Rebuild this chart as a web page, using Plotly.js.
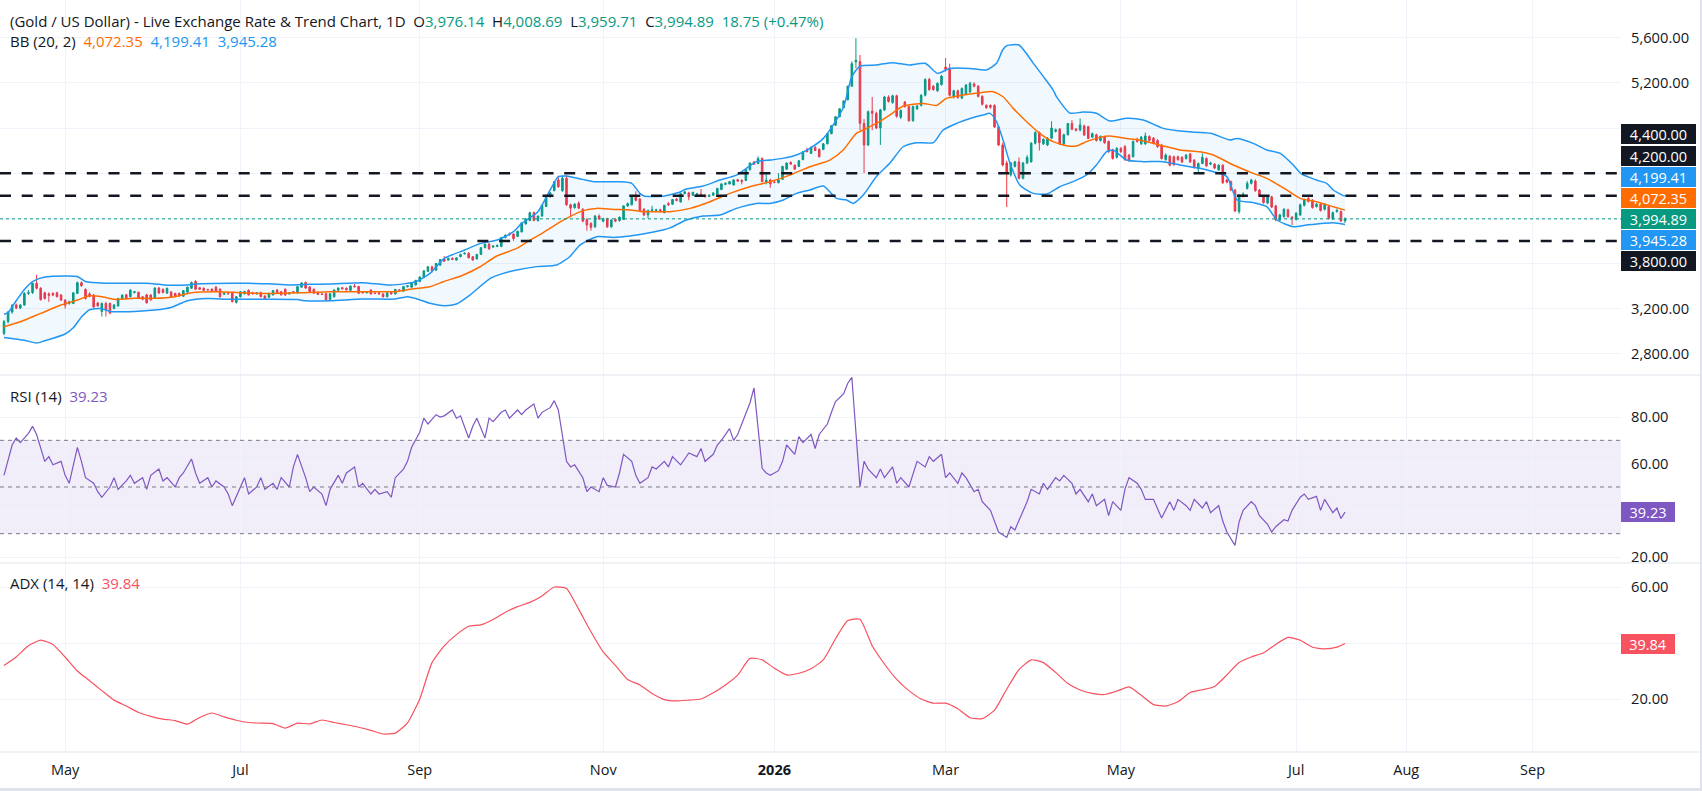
<!DOCTYPE html>
<html><head><meta charset="utf-8">
<script src="https://cdn.plot.ly/plotly-3.0.1.min.js"></script>
<style>
html,body{margin:0;padding:0;background:#e0e3eb;}
#chart{position:absolute;left:0;top:0;width:1700px;height:788px;background:#fff;}
</style></head><body><div id="chart"></div>
<script>
// ---------------- DATA ----------------
const monthTickBars = [15, 58, 102, 147, 189, 231, 274, 317, 344, 375];
const monthTickText = ['May','Jul','Sep','Nov','<b>2026</b>','Mar','May','Jul','Aug','Sep'];

const open = [
2980,3085,3170,3232,3205,3232,3335,3342,3424,3380, 3340,3330,3335,3340,3320,3275,3245,3245,3335,3430,
3370,3330,3320,3250,3175,3245,3245,3200,3225,3290, 3322,3305,3342,3345,3305,3322,3320,3290,3382,3370,
3338,3348,3335,3335,3310,3345,3380,3440,3385,3380, 3370,3372,3390,3372,3328,3336,3338,3255,3305,3332,
3362,3340,3330,3342,3312,3300,3322,3365,3350,3372, 3330,3350,3340,3390,3432,3392,3372,3342,3330,3332,
3280,3305,3362,3385,3380,3362,3400,3396,3346,3340, 3365,3336,3340,3330,3305,3345,3330,3366,3355,3394,
3390,3410,3440,3475,3530,3570,3540,3585,3640,3630, 3645,3630,3660,3685,3690,3660,3640,3680,3740,3770,
3745,3750,3750,3830,3862,3860,3840,3880,3950,3980, 4050,3980,4020,4105,4190,4245,4340,4245,4355,4120,
4095,4135,4080,3990,3955,3925,4020,3975,3995,3925, 3990,3980,3990,4110,4120,4190,4170,4080,4030,4070,
4070,4075,4050,4130,4125,4168,4145,4220,4225,4205, 4208,4215,4206,4195,4205,4215,4255,4300,4305,4295,
4342,4336,4335,4430,4500,4485,4530,4320,4340,4320, 4315,4345,4435,4495,4470,4460,4520,4605,4575,4628,
4610,4610,4660,4750,4825,4900,4980,5050,5170,5385, 5390,4840,4650,4950,4930,4800,4960,5075,5025,5085,
4895,5030,4990,4865,4970,5000,5090,5230,5170,5130, 5185,5340,5330,5080,5130,5065,5100,5120,5190,5170,
5080,5000,5000,5000,4810,4650,4490,4385,4460,4500, 4355,4490,4500,4665,4760,4660,4650,4710,4770,4790,
4660,4740,4840,4790,4782,4818,4812,4720,4740,4690, 4720,4680,4605,4540,4620,4635,4560,4545,4700,4660,
4660,4725,4710,4690,4650,4520,4550,4545,4545,4540, 4530,4570,4515,4440,4485,4530,4480,4480,4430,4470,
4340,4325,4250,4060,4195,4265,4310,4330,4250,4195, 4135,4190,4110,3985,4015,4075,4010,3990,4030,4115,
4175,4160,4105,4125,4080,4105,3995,4060,4060,3976.14];
const high = [
3100,3180,3240,3245,3240,3345,3365,3430,3500,3390, 3350,3345,3345,3350,3330,3285,3270,3345,3440,3440,
3380,3345,3330,3260,3255,3260,3255,3240,3295,3325, 3330,3370,3355,3350,3310,3330,3328,3390,3392,3380,
3385,3355,3340,3342,3365,3395,3440,3452,3392,3388, 3375,3380,3400,3380,3342,3345,3345,3310,3355,3358,
3370,3348,3345,3350,3318,3340,3365,3372,3356,3378, 3345,3355,3400,3435,3440,3398,3378,3348,3336,3338,
3338,3372,3388,3392,3388,3405,3418,3402,3352,3356, 3372,3345,3346,3336,3345,3350,3375,3372,3400,3408,
3435,3455,3485,3540,3578,3580,3605,3640,3665,3652, 3655,3656,3686,3698,3700,3666,3685,3746,3778,3785,
3762,3768,3835,3858,3875,3866,3890,3965,4000,4058, 4060,4025,4120,4205,4232,4330,4378,4380,4380,4130,
4135,4150,4090,4000,3965,4030,4035,4005,4005,3990, 4000,4015,4115,4140,4195,4240,4180,4090,4075,4110,
4085,4085,4120,4145,4172,4180,4225,4245,4235,4235, 4222,4260,4212,4210,4230,4270,4310,4318,4330,4345,
4350,4345,4435,4495,4508,4550,4540,4390,4350,4330, 4400,4465,4495,4505,4478,4515,4595,4625,4635,4640,
4620,4665,4755,4825,4905,4975,5045,5175,5390,5595, 5447,4880,4955,5075,4945,4970,5085,5090,5095,5095,
4965,5040,5000,5000,5005,5100,5240,5245,5180,5205, 5270,5420,5370,5140,5140,5160,5190,5210,5205,5180,
5090,5010,5010,5010,4820,4670,4510,4500,4510,4540, 4500,4560,4675,4770,4770,4710,4720,4860,4795,4800,
4750,4845,4870,4800,4885,4830,4820,4760,4750,4735, 4730,4690,4615,4630,4630,4650,4570,4690,4715,4730,
4760,4735,4720,4700,4660,4575,4560,4555,4555,4550, 4570,4580,4525,4495,4575,4540,4500,4490,4480,4480,
4350,4335,4260,4215,4230,4330,4350,4345,4260,4205, 4200,4200,4120,4040,4090,4085,4020,4055,4130,4175,
4195,4170,4135,4135,4135,4115,4060,4085,4070,4008.69];
const low = [
2965,3070,3155,3195,3195,3225,3320,3330,3370,3270, 3280,3260,3310,3300,3270,3200,3235,3240,3330,3395,
3280,3300,3205,3215,3130,3130,3150,3195,3215,3280, 3285,3300,3335,3285,3275,3245,3270,3285,3330,3335,
3330,3295,3305,3305,3305,3340,3375,3365,3365,3355, 3360,3345,3345,3298,3320,3325,3255,3245,3298,3325,
3315,3325,3325,3300,3282,3295,3315,3330,3315,3315, 3325,3340,3335,3385,3375,3345,3330,3320,3320,3268,
3272,3298,3355,3368,3360,3355,3388,3330,3335,3334, 3325,3328,3325,3298,3300,3325,3325,3356,3350,3388,
3385,3405,3435,3470,3525,3520,3535,3580,3615,3625, 3630,3625,3655,3680,3645,3625,3635,3675,3735,3720,
3738,3745,3745,3822,3848,3800,3835,3875,3945,3975, 3975,3970,4015,4100,4185,4240,4270,4235,4110,4010,
4085,4080,3965,3890,3890,3915,3985,3965,3915,3915, 3965,3970,3985,4100,4115,4150,4065,4020,4000,4060,
4060,4050,4045,4110,4120,4150,4140,4212,4160,4198, 4200,4195,4185,4188,4200,4210,4250,4294,4300,4290,
4322,4300,4330,4425,4475,4480,4320,4300,4270,4310, 4310,4340,4430,4475,4430,4455,4515,4585,4570,4595,
4540,4605,4655,4745,4820,4895,4975,5045,5165,5330, 4780,4400,4640,4780,4790,4650,4950,5025,5015,4890,
4880,4980,4855,4855,4960,4990,5080,5130,5130,5120, 5175,5300,5080,5060,5060,5055,5090,5110,5160,5070,
5000,4970,4970,4800,4640,4460,4100,4370,4450,4345, 4345,4480,4495,4655,4600,4650,4640,4700,4760,4650,
4640,4735,4780,4770,4770,4730,4700,4710,4680,4680, 4660,4580,4520,4530,4580,4510,4500,4540,4670,4650,
4650,4680,4655,4625,4520,4510,4460,4465,4510,4490, 4520,4490,4440,4405,4480,4455,4470,4435,4420,4305,
4310,4240,4055,4040,4185,4255,4300,4235,4190,4130, 4125,4090,3975,3975,4005,4005,3940,3980,4020,4105,
4140,4085,4095,4060,4070,3990,3985,4050,3970,3959.71];
const close = [
3085,3170,3230,3205,3232,3335,3342,3424,3380,3280, 3290,3318,3320,3305,3275,3230,3260,3340,3430,3402,
3290,3310,3215,3225,3245,3190,3160,3232,3290,3320, 3292,3365,3350,3292,3282,3252,3278,3382,3338,3342,
3380,3302,3312,3312,3360,3390,3432,3372,3372,3362, 3366,3352,3352,3305,3336,3332,3262,3305,3350,3352,
3322,3332,3340,3306,3290,3335,3360,3336,3322,3320, 3340,3346,3395,3428,3382,3352,3336,3326,3326,3276,
3332,3365,3382,3376,3366,3400,3394,3336,3341,3348, 3330,3335,3330,3305,3340,3330,3370,3364,3395,3402,
3430,3450,3480,3535,3570,3535,3600,3635,3620,3645, 3636,3650,3680,3690,3650,3630,3680,3740,3770,3730,
3755,3760,3830,3850,3855,3820,3885,3960,3995,4050, 3980,4020,4115,4200,4225,4325,4280,4355,4120,4090,
4125,4090,3975,3940,3920,4020,3995,3995,3925,3985, 3975,4010,4110,4130,4190,4160,4070,4030,4070,4075,
4075,4060,4115,4120,4166,4158,4220,4235,4190,4230, 4216,4200,4190,4205,4225,4265,4305,4310,4325,4340,
4330,4325,4430,4490,4480,4530,4325,4340,4305,4318, 4340,4460,4490,4480,4435,4510,4590,4590,4630,4600,
4545,4660,4750,4820,4900,4970,5040,5170,5370,5400, 4842,4650,4945,4930,4800,4960,5075,5035,5085,4905,
4955,4990,4865,4990,4995,5090,5230,5140,5140,5195, 5260,5320,5090,5130,5070,5150,5180,5195,5170,5080,
5010,4980,4985,4810,4650,4472,4400,4490,4500,4355, 4490,4540,4665,4760,4670,4700,4710,4800,4785,4660,
4740,4840,4790,4780,4827,4738,4708,4750,4690,4725, 4670,4590,4530,4620,4590,4520,4510,4680,4680,4720,
4730,4690,4665,4635,4530,4560,4470,4475,4520,4500, 4560,4500,4450,4485,4540,4465,4490,4445,4470,4315,
4320,4250,4065,4205,4215,4310,4340,4245,4200,4140, 4190,4100,3985,4030,4080,4015,4000,4045,4120,4165,
4150,4095,4125,4070,4125,4000,4050,4070,3976.14,3994.89];

// Bollinger Bands (20, 2) at sample bars
const bbUpperBar = [0,1,3,5,7,10,15,18,20,25, 30,35,38,40,45,48,55,60,65,70,
 75,80,88,95,101,104.5,108,113,117,121, 125,127,131,134,136,138,142,145,151,154,
 156,157,162,166,167,171.5,175.6,179.7,184.6,188, 191,194.4,197.7,201,203.4,206,208,210,214,218,
 222,226,229,232,237,241,243.5,245,246,249, 252.5,255,257.4,258.2,261.5,264.7,268,271.3,275.4,279.5,
 284.4,290,296,300.8,302.4,306.5,309.8,313.1,316.3,318.3, 322,324.5,326.1,328.6,329];
const bbUpper = [3150,3165,3270,3370,3440,3480,3490,3485,3440,3425, 3425,3425,3415,3408,3410,3420,3424,3424,3420,3410,
 3415,3418,3430,3409,3438,3512,3645,3719,3778,3808, 3882,3955,4059,4251,4369,4375,4345,4324,4324,4310,
 4221,4198,4198,4236,4256,4286,4339,4383,4502,4516, 4531,4561,4620,4708,4826,4989,5255,5349,5358,5379,
 5358,5373,5284,5328,5328,5314,5373,5491,5530,5535, 5375,5255,5136,5078,4932,4941,4930,4862,4886,4871,
 4797,4768,4753,4694,4708,4664,4605,4575,4472,4393, 4339,4310,4251,4201,4199.41];
const bbLowerBar = [0,5,8,10,15,17,19,21,24,26, 32,37,41,45,50,55,65,72,74,80,
 88,96,99,101,104.5,108,111,114.3,119.3,122.5, 125.8,130.7,135.6,138.8,141.3,145.4,149.5,153.6,157.7,161.7,
 163.4,167.4,171.5,175.6,179.7,184.6,187.9,191.2,194.4,197.7, 201,204.2,206.7,208.3,210.8,214,217.3,220.6,223.9,228,
 230.4,233.7,237,240.2,241.9,243.5,245.1,246.8,249.2,252.5, 255.8,259,262.3,265.6,268,270.5,272.1,275.4,279.5,284.4,
 288.5,293.4,296.7,300,302.5,306.5,309.8,312.3,316.3,319.6, 326.1,329];
const bbLower = [2945,2920,2895,2915,2975,3030,3125,3190,3200,3175, 3175,3187,3210,3270,3290,3283,3283,3280,3270,3270,
 3285,3285,3306,3290,3247,3226,3241,3320,3468,3512, 3542,3572,3586,3660,3763,3837,3831,3843,3867,3896,
 3915,3985,4020,4029,4088,4132,4132,4162,4221,4251, 4286,4177,4162,4132,4206,4369,4487,4634,4670,4670,
 4782,4841,4885,4915,4930,4856,4693,4487,4295,4221, 4215,4280,4325,4384,4472,4590,4605,4516,4502,4502,
 4472,4443,4413,4369,4162,4139,4103,3985,3926,3941, 3961,3945.28];
const bbMidBar = [0,4,9,14,18,21,24,27,32,37, 42,46,53,58,64,73,80,88,96,99.6,
 104.5,107.8,112.7,116.8,120.9,125.8,129.1,132.3,135.6,138, 142.1,145.4,149.5,153.6,156.8,160.9,163.4,168.3,173.2,178.1,
 183,187.9,192.8,197.7,202.6,205.9,209.1,210.8,214,217.3, 220.6,225.5,228.8,231.2,235.3,239.4,242.7,245.1,247.6,250.9,
 254.1,257.4,260.7,263.1,265.6,268.8,271.3,275.4,279.5,284.4, 288.5,293.4,296.7,301.6,306.5,309.8,314.7,318,322,326.1,329];
const bbMid = [3040,3084,3158,3232,3276,3314,3306,3282,3291,3291, 3306,3341,3350,3341,3335,3341,3350,3350,3350,3371,
 3394,3438,3498,3571,3666,3734,3808,3873,3949,3999, 4068,4088,4079,4074,4059,4059,4059,4088,4147,4221,
 4280,4324,4383,4457,4516,4605,4753,4782,4841,4915, 4995,5018,5000,5063,5092,5113,5122,5077,4974,4856,
 4753,4679,4643,4641,4679,4717,4729,4708,4688,4641, 4605,4590,4561,4472,4398,4354,4251,4177,4147,4103,4072.35];

// RSI (14)
const rsiBar = [0,2,3,4,6,7,8,10,11,12,14,15,16,18,19,20,22,23,24,26,27,28,30,31,32,34,35,36,38,39,40,42,43,44,46,47,48,50,51,52,
54,55,56,58,59,60,62,63,64,66,67,68,70,71,72,74,75,76,78,79,80,82,83,84,86,87,88,90,91,92,94,95,96,98,99,100,102,103,104,106,
107,108,110,111,112,114,115,116,118,119,120,122,123,124,126,127,128,130,131,132,134,135,136,138,139,140,142,143,144,146,147,148,150,151,
152,154,155,156,158,159,160,162,163,164,166,167,168,170,171,172,174,175,176,178,179,180,182,183,184,186,187,188,190,191,192,194,195,196,
198,199,200,202,203,204,206,207,208,210,211,212,214,215,216,218,219,220,222,223,224,226,227,228,230,231,232,234,235,236,238,239,240,242,
243,244,246,247,248,250,251,252,254,255,256,258,259,260,262,263,264,266,267,268,270,271,272,274,275,276,278,279,280,282,283,284,286,287,
288,290,291,292,294,295,296,298,299,300,302,303,304,306,307,308,310,311,312,314,315,316,318,319,320,322,323,324,326,327,328,329];
const rsi = [55,68,71,69,73,76,72.5,61,63,59.5, 61,55,51.6,67,61,54,51.6,48,45.6,50,
 54,49,52.6,55,51.6,54,49,55,57.7,52.6, 54,50,54,56,62,56,51.6,54,50,52.6,
 50,47,42,50,54,47,50,54,49,51.6, 49,54,50,58.6,64,54,48,50,47,42,
 49,55,51.6,56,58.6,50,51.6,47,49,47, 48,45.6,54,57.7,61,67,73.5,79.5,77,81,
 80,80.5,83,79.5,80.5,71,76,79.5,71,79.5, 78,82,83,79.5,83,81,83,85.6,79.5,82,
 84,87,83,61,58.6,59.5,54,48,50,48, 54,50.7,50,56,64,61,55,51.6,54,58.6,
 57.7,61,58.6,63,59.5,62,64.6,63,66.5,61, 64,68,70,75,70,72.5,81,86,92.5,58,
 56,55,57,61,68,64,71.6,69,72.5,66.5, 72.5,77,82,86.6,90,94.5,97,50,61,57.7,
 54,57.7,54,58.6,51.6,54,50,56,61,58.6, 63,61,64,54,56,51.6,56,54,48,49,
 43.7,40,35.4,30.7,28.4,33,31.6,40,43.7,49, 47,51.6,49,54,52.6,55,51.6,47,49,43.7,
 47,42,44.7,37.7,43.7,40,49,54,51.6,49, 44.7,44.7,41,36.7,43.7,40,44.7,42,40,44.7,
 41,43.7,39,42,35.4,30.7,25,35,40,43.7, 42,37.7,34,30.7,33,36,35.4,40,45.6,47,
 44.7,46,40,44.7,39,41,36.5,39.23];

// ADX (14, 14)
const adxBar = [0,3,6,9,12,15,18,21,24,27, 30,33,36,39,42,45,48,51,54,57,
 60,63,66,69,72,75,78,81,84,87, 90,93,96,99,102,105,108,111,114,117,
 120,123,126,129,132,135,138,141,144,147, 150,153,156,159,162,165,168,171,174,177,
 180,183,186,189,192,195,198,201,204,207, 210,213,216,219,222,225,228,231,234,237,
 240,243,246,249,252,255,258,261,264,267, 270,273,276,279,282,285,288,291,294,297,
 300,303,306,309,312,315,318,321,324,327, 329];
const adx = [32,35,39,41,39.5,35,30,26.5,23,19.6, 17.5,15.2,13.8,12.8,12.3,11,13.4,15,13.6,12.4,
 11.6,11.4,11.2,9.6,11.4,11.1,12.5,11.6,10.8,9.9, 8.8,7.5,7.8,11.5,20,33,39,43,46,46.5,
 48.4,51,53,54.5,56.8,60,59.5,52,44,36.8, 32,27,25,22,19.8,19.3,19.6,20,22.2,25,
 28.5,34.5,34,31,28.6,29.2,30.8,34,41.5,48, 48.5,39,32.5,27,23,20,18.5,18.5,16.5,13.3,
 13,16,23.5,30.5,34,33,29.5,25.5,23.2,22, 21.6,22.8,24.3,21.3,18,17.5,19,22.3,23.3,24.5,
 28.6,33,35,36.5,39.5,42,41,38.5,37.9,38.5, 39.84];

const levelLines = [4400, 4200, 3800];
const priceTicks = [2800, 3200, 3600, 4000, 4400, 4800, 5200, 5600];
const priceTickHidden = [3600, 4000, 4400, 4800];   // covered by the price markers in the reference
const rsiTicks = [20, 40, 60, 80];
const rsiLevels = [70, 50, 30];
const adxTicks = [20, 40, 60];
const titleText = '(Gold / US Dollar) - Live Exchange Rate &amp; Trend Chart, 1D';

// ---------------- DRAWING ----------------
const FONT = '"Open Sans", Roboto, sans-serif';
const INK = '#131722', UP = '#089981', DOWN = '#f23645', BLUE = '#2196f3', ORANGE = '#ff6d00', PURPLE = '#7e57c2', ADXC = '#f7525f';
const NB = '\u00a0';
const fmt = v => v.toLocaleString('en-US', {minimumFractionDigits: 2, maximumFractionDigits: 2});
const last = a => a[a.length - 1];
const bars = close.map((_, i) => i);
const col = (c, t) => `<span style="color:${c}">${t}</span>`;

const H = 752; // plot height (px) used to convert pane positions
const py = px => 1 - px / H;

const traces = [
  {type: 'candlestick', x: bars, open, high, low, close, xaxis: 'x', yaxis: 'y',
   increasing: {line: {color: UP, width: 1}, fillcolor: UP},
   decreasing: {line: {color: DOWN, width: 1}, fillcolor: DOWN},
   whiskerwidth: 0, hoverinfo: 'skip', showlegend: false},
  {type: 'scatter', mode: 'lines', x: bbUpperBar, y: bbUpper, yaxis: 'y',
   line: {color: BLUE, width: 1.5, shape: 'spline', smoothing: 0.6}, hoverinfo: 'skip'},
  {type: 'scatter', mode: 'lines', x: bbLowerBar, y: bbLower, yaxis: 'y', fill: 'tonexty', fillcolor: 'rgba(33,150,243,0.06)',
   line: {color: BLUE, width: 1.5, shape: 'spline', smoothing: 0.6}, hoverinfo: 'skip'},
  {type: 'scatter', mode: 'lines', x: bbMidBar, y: bbMid, yaxis: 'y',
   line: {color: ORANGE, width: 1.5, shape: 'spline', smoothing: 0.6}, hoverinfo: 'skip'},
  {type: 'scatter', mode: 'lines', x: rsiBar, y: rsi, yaxis: 'y2',
   line: {color: PURPLE, width: 1.2}, hoverinfo: 'skip'},
  {type: 'scatter', mode: 'lines', x: adxBar, y: adx, yaxis: 'y3',
   line: {color: ADXC, width: 1.2, shape: 'spline', smoothing: 0.5}, hoverinfo: 'skip'}
];

const shapes = [];
shapes.push({type: 'rect', xref: 'x domain', yref: 'y2', x0: 0, x1: 1, y0: rsiLevels[2], y1: rsiLevels[0],
  fillcolor: 'rgba(126,87,194,0.1)', line: {width: 0}, layer: 'below'});
rsiLevels.forEach(v => shapes.push({type: 'line', xref: 'x domain', yref: 'y2', x0: 0, x1: 1, y0: v, y1: v,
  line: {color: '#787b86', width: 1, dash: '4px,4px'}}));
levelLines.forEach(v => shapes.push({type: 'line', xref: 'x domain', yref: 'y', x0: 0, x1: 1, y0: v, y1: v,
  line: {color: INK, width: 2.5, dash: '11px,10.7px'}}));
shapes.push({type: 'line', xref: 'x domain', yref: 'y', x0: 0, x1: 1, y0: last(close), y1: last(close),
  line: {color: UP, width: 1, dash: 'dot'}});
[375, 563, 752].forEach(p => shapes.push({type: 'line', xref: 'paper', yref: 'paper', x0: 0, x1: 1700 / 1621,
  y0: py(p), y1: py(p), line: {color: '#e0e3eb', width: 1}}));

const ann = [];
const txt = (text, y) => ({xref: 'paper', yref: 'paper', x: 7.6 / 1621, y: y, xanchor: 'left', yanchor: 'middle',
  showarrow: false, text: text, font: {family: FONT, size: 15, color: INK}});
const chg = close[329] - close[328];
ann.push(txt(titleText + NB + NB + 'O' + col(UP, fmt(open[329])) + NB + NB + 'H' + col(UP, fmt(high[329])) +
  NB + NB + 'L' + col(UP, fmt(low[329])) + NB + NB + 'C' + col(UP, fmt(close[329])) + NB + NB +
  col(UP, fmt(chg) + ' (+' + (chg / close[328] * 100).toFixed(2) + '%)'), py(20.6)));
ann.push(txt('BB (20, 2)' + NB + NB + col(ORANGE, fmt(last(bbMid))) + NB + NB + col(BLUE, fmt(last(bbUpper))) + NB + NB + col(BLUE, fmt(last(bbLower))), py(41)));
ann.push(txt('RSI (14)' + NB + NB + col(PURPLE, fmt(last(rsi))), py(396)));
ann.push(txt('ADX (14, 14)' + NB + NB + col(ADXC, fmt(last(adx))), py(583)));

const box = (text, color, yPx, w) => ({xref: 'paper', yref: 'paper', x: 1, y: py(yPx), xanchor: 'left', yanchor: 'middle',
  showarrow: false, text: text, bgcolor: color, width: w, height: 16, borderpad: 2, borderwidth: 0, align: 'center',
  font: {family: FONT, size: 14.5, color: '#ffffff'}});
const markers = [
  [fmt(levelLines[0]), INK, 134], [fmt(levelLines[1]), INK, 156], [fmt(last(bbUpper)), BLUE, 177],
  [fmt(last(bbMid)), ORANGE, 198], [fmt(last(close)), UP, 219], [fmt(last(bbLower)), BLUE, 240], [fmt(levelLines[2]), INK, 261]
];
markers.forEach(m => ann.push(box(m[0], m[1], m[2], 71)));
ann.push(box(fmt(last(rsi)), PURPLE, 512, 50));
ann.push(box(fmt(last(adx)), ADXC, 644, 50));

const yCommon = {side: 'right', showgrid: true, gridcolor: '#f0f3fa', zeroline: false, showline: false, ticks: '',
  tickfont: {family: FONT, size: 14.7, color: INK}, ticklabelstandoff: 9, fixedrange: true, anchor: 'x'};

const layout = {
  width: 1700, height: 788, margin: {l: 0, r: 79, t: 0, b: 36},
  paper_bgcolor: '#ffffff', plot_bgcolor: '#ffffff', showlegend: false, hovermode: false,
  boxgap: 0.45,
  font: {family: FONT, color: INK},
  xaxis: {range: [-0.98, 396.7], tickvals: monthTickBars, ticktext: monthTickText, showgrid: true, gridcolor: '#f0f3fa',
    zeroline: false, showline: false, ticks: '', tickfont: {family: FONT, size: 14.5, color: INK}, anchor: 'y3',
    rangeslider: {visible: false}, fixedrange: true, ticklabelstandoff: 7},
  yaxis: Object.assign({}, yCommon, {domain: [py(375), 1], range: [2612, 5934], tickvals: priceTicks,
    ticktext: priceTicks.map(v => priceTickHidden.includes(v) ? '' : fmt(v))}),
  yaxis2: Object.assign({}, yCommon, {domain: [py(563), py(375)], range: [17.43, 98], tickvals: rsiTicks,
    ticktext: rsiTicks.map(v => v === 40 ? '' : fmt(v))}),
  yaxis3: Object.assign({}, yCommon, {domain: [0, py(563)], range: [1.07, 68.57], tickvals: adxTicks,
    ticktext: adxTicks.map(v => v === 40 ? '' : fmt(v))}),
  shapes: shapes, annotations: ann
};

Plotly.newPlot('chart', traces, layout, {displayModeBar: false, staticPlot: true});
</script></body></html>
